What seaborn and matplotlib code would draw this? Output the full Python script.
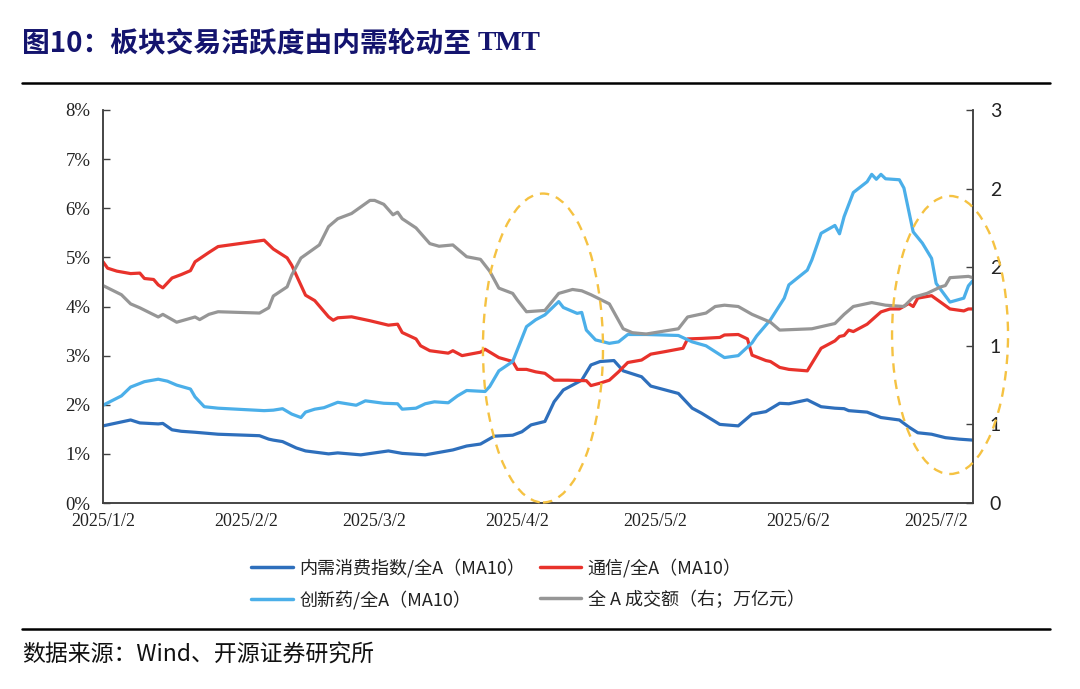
import matplotlib
matplotlib.use("Agg")
import matplotlib.pyplot as plt
from matplotlib.patches import Ellipse
from matplotlib.lines import Line2D
import seaborn as sns
import pandas as pd

sns.set_theme(style="white")
plt.rcParams['font.family'] = ['Noto Sans CJK SC', 'DejaVu Sans']
plt.rcParams['axes.unicode_minus'] = False

# ---------------- data ----------------
neixu_dates = ["2025-01-02", "2025-01-05", "2025-01-08", "2025-01-10", "2025-01-14", "2025-01-15",
               "2025-01-17", "2025-01-19", "2025-01-22", "2025-01-27", "2025-02-05", "2025-02-07",
               "2025-02-08", "2025-02-10", "2025-02-13", "2025-02-15", "2025-02-20", "2025-02-22",
               "2025-02-27", "2025-03-02", "2025-03-05", "2025-03-08", "2025-03-13", "2025-03-19",
               "2025-03-22", "2025-03-25", "2025-03-28", "2025-04-01", "2025-04-03", "2025-04-05",
               "2025-04-08", "2025-04-10", "2025-04-12", "2025-04-14", "2025-04-16", "2025-04-18",
               "2025-04-20", "2025-04-23", "2025-04-25", "2025-04-29", "2025-05-01", "2025-05-07",
               "2025-05-10", "2025-05-12", "2025-05-16", "2025-05-20", "2025-05-23", "2025-05-26",
               "2025-05-29", "2025-05-31", "2025-06-04", "2025-06-07", "2025-06-10", "2025-06-12",
               "2025-06-13", "2025-06-17", "2025-06-20", "2025-06-24", "2025-06-26", "2025-06-28",
               "2025-07-01", "2025-07-04", "2025-07-07", "2025-07-10"]
neixu_vals = [1.57, 1.63, 1.69, 1.63, 1.61, 1.62,
              1.49, 1.46, 1.44, 1.40, 1.37, 1.30,
              1.28, 1.25, 1.12, 1.06, 1.00, 1.02,
              0.98, 1.02, 1.06, 1.01, 0.98, 1.08,
              1.16, 1.20, 1.36, 1.38, 1.45, 1.59,
              1.66, 2.06, 2.30, 2.40, 2.50, 2.81,
              2.88, 2.90, 2.69, 2.57, 2.38, 2.23,
              1.93, 1.83, 1.60, 1.57, 1.81, 1.86,
              2.03, 2.02, 2.10, 1.96, 1.93, 1.92,
              1.88, 1.85, 1.74, 1.69, 1.55, 1.43,
              1.40, 1.33, 1.30, 1.28]

tongxin_dates = ["2025-01-02", "2025-01-03", "2025-01-05", "2025-01-08", "2025-01-10", "2025-01-11",
                 "2025-01-13", "2025-01-14", "2025-01-15", "2025-01-17", "2025-01-19", "2025-01-21",
                 "2025-01-22", "2025-01-25", "2025-01-27", "2025-02-06", "2025-02-08", "2025-02-11",
                 "2025-02-12", "2025-02-15", "2025-02-17", "2025-02-20", "2025-02-21", "2025-02-22",
                 "2025-02-25", "2025-03-01", "2025-03-05", "2025-03-07", "2025-03-08", "2025-03-11",
                 "2025-03-12", "2025-03-14", "2025-03-18", "2025-03-19", "2025-03-21", "2025-03-25",
                 "2025-03-26", "2025-03-29", "2025-04-01", "2025-04-02", "2025-04-04", "2025-04-06",
                 "2025-04-08", "2025-04-10", "2025-04-13", "2025-04-17", "2025-04-18", "2025-04-20",
                 "2025-04-22", "2025-04-24", "2025-04-26", "2025-04-29", "2025-05-01", "2025-05-04",
                 "2025-05-08", "2025-05-09", "2025-05-12", "2025-05-16", "2025-05-17", "2025-05-20",
                 "2025-05-22", "2025-05-23", "2025-05-26", "2025-05-27", "2025-05-29", "2025-05-31",
                 "2025-06-04", "2025-06-07", "2025-06-10", "2025-06-11", "2025-06-12", "2025-06-13",
                 "2025-06-14", "2025-06-17", "2025-06-20", "2025-06-22", "2025-06-24", "2025-06-26",
                 "2025-06-27", "2025-06-28", "2025-07-01", "2025-07-05", "2025-07-08", "2025-07-09",
                 "2025-07-10"]
tongxin_vals = [4.91, 4.78, 4.72, 4.67, 4.68, 4.57,
                4.55, 4.44, 4.38, 4.58, 4.65, 4.73,
                4.91, 5.10, 5.22, 5.35, 5.17, 4.99,
                4.84, 4.23, 4.12, 3.79, 3.72, 3.77,
                3.79, 3.71, 3.62, 3.64, 3.47, 3.34,
                3.20, 3.10, 3.05, 3.10, 3.00, 3.07,
                3.13, 2.96, 2.88, 2.72, 2.72, 2.67,
                2.64, 2.50, 2.50, 2.49, 2.39, 2.44,
                2.50, 2.67, 2.86, 2.91, 3.03, 3.08,
                3.15, 3.34, 3.35, 3.37, 3.42, 3.43,
                3.34, 3.01, 2.90, 2.88, 2.76, 2.72,
                2.69, 3.15, 3.30, 3.39, 3.41, 3.52,
                3.49, 3.64, 3.89, 3.95, 3.95, 4.06,
                4.00, 4.17, 4.22, 3.95, 3.91, 3.95,
                3.95]

yiyao_dates = ["2025-01-02", "2025-01-06", "2025-01-08", "2025-01-11", "2025-01-14", "2025-01-16",
               "2025-01-18", "2025-01-21", "2025-01-22", "2025-01-24", "2025-01-27", "2025-02-06",
               "2025-02-08", "2025-02-10", "2025-02-12", "2025-02-14", "2025-02-15", "2025-02-17",
               "2025-02-19", "2025-02-22", "2025-02-26", "2025-02-28", "2025-03-04", "2025-03-07",
               "2025-03-08", "2025-03-11", "2025-03-13", "2025-03-15", "2025-03-18", "2025-03-20",
               "2025-03-22", "2025-03-26", "2025-03-27", "2025-03-29", "2025-04-01", "2025-04-04",
               "2025-04-06", "2025-04-08", "2025-04-11", "2025-04-12", "2025-04-15", "2025-04-16",
               "2025-04-17", "2025-04-19", "2025-04-22", "2025-04-24", "2025-04-26", "2025-04-30",
               "2025-05-07", "2025-05-10", "2025-05-13", "2025-05-17", "2025-05-20", "2025-05-23",
               "2025-05-24", "2025-05-27", "2025-05-30", "2025-05-31", "2025-06-04", "2025-06-05",
               "2025-06-07", "2025-06-10", "2025-06-11", "2025-06-12", "2025-06-14", "2025-06-17",
               "2025-06-18", "2025-06-19", "2025-06-20", "2025-06-21", "2025-06-24", "2025-06-25",
               "2025-06-27", "2025-06-29", "2025-07-01", "2025-07-02", "2025-07-05", "2025-07-08",
               "2025-07-09", "2025-07-10"]
yiyao_vals = [1.99, 2.18, 2.36, 2.47, 2.52, 2.48,
              2.40, 2.32, 2.16, 1.96, 1.93, 1.88,
              1.89, 1.92, 1.81, 1.74, 1.85, 1.91,
              1.94, 2.05, 1.99, 2.08, 2.03, 2.02,
              1.91, 1.93, 2.02, 2.06, 2.04, 2.18,
              2.29, 2.27, 2.37, 2.69, 2.88, 3.59,
              3.73, 3.83, 4.10, 3.98, 3.86, 3.88,
              3.52, 3.32, 3.25, 3.28, 3.43, 3.43,
              3.41, 3.28, 3.20, 2.96, 3.00, 3.26,
              3.40, 3.73, 4.17, 4.44, 4.74, 4.95,
              5.49, 5.65, 5.48, 5.83, 6.32, 6.54,
              6.69, 6.59, 6.69, 6.60, 6.58, 6.41,
              5.52, 5.29, 4.98, 4.47, 4.09, 4.17,
              4.42, 4.53]

turnover_dates = ["2025-01-02", "2025-01-06", "2025-01-08", "2025-01-10", "2025-01-14", "2025-01-15",
                  "2025-01-18", "2025-01-20", "2025-01-22", "2025-01-23", "2025-01-25", "2025-01-27",
                  "2025-02-05", "2025-02-07", "2025-02-08", "2025-02-11", "2025-02-12", "2025-02-14",
                  "2025-02-18", "2025-02-20", "2025-02-22", "2025-02-25", "2025-03-01", "2025-03-02",
                  "2025-03-04", "2025-03-06", "2025-03-07", "2025-03-08", "2025-03-11", "2025-03-14",
                  "2025-03-16", "2025-03-19", "2025-03-22", "2025-03-25", "2025-03-27", "2025-03-29",
                  "2025-04-01", "2025-04-02", "2025-04-04", "2025-04-08", "2025-04-11", "2025-04-14",
                  "2025-04-16", "2025-04-18", "2025-04-22", "2025-04-25", "2025-04-27", "2025-04-30",
                  "2025-05-07", "2025-05-09", "2025-05-13", "2025-05-15", "2025-05-17", "2025-05-20",
                  "2025-05-23", "2025-05-25", "2025-05-27", "2025-05-29", "2025-06-05", "2025-06-10",
                  "2025-06-12", "2025-06-14", "2025-06-18", "2025-06-21", "2025-06-25", "2025-06-27",
                  "2025-06-30", "2025-07-03", "2025-07-04", "2025-07-05", "2025-07-09", "2025-07-10"]
turnover_vals = [1.66, 1.59, 1.52, 1.49, 1.42, 1.44,
                 1.38, 1.40, 1.42, 1.40, 1.44, 1.46,
                 1.45, 1.49, 1.58, 1.65, 1.74, 1.87,
                 1.97, 2.11, 2.17, 2.21, 2.31, 2.31,
                 2.28, 2.20, 2.22, 2.17, 2.10, 1.98,
                 1.96, 1.97, 1.88, 1.86, 1.77, 1.64,
                 1.60, 1.55, 1.46, 1.47, 1.60, 1.63,
                 1.62, 1.59, 1.52, 1.33, 1.30, 1.29,
                 1.33, 1.42, 1.45, 1.50, 1.51, 1.50,
                 1.44, 1.41, 1.38, 1.32, 1.33, 1.37,
                 1.44, 1.50, 1.53, 1.51, 1.50, 1.57,
                 1.60, 1.65, 1.66, 1.72, 1.73, 1.72]

series_labels = ["内需消费指数/全A（MA10）", "通信/全A（MA10）",
                 "创新药/全A（MA10）", "全 A 成交额（右；万亿元）"]
series_colors = ["#2E6FBC", "#E8322B", "#4BAFE9", "#969696"]

xtick_dates = ["2025-01-02", "2025-02-02", "2025-03-02", "2025-04-02",
               "2025-05-02", "2025-06-02", "2025-07-02"]
xtick_labels = ["2025/1/2", "2025/2/2", "2025/3/2", "2025/4/2",
                "2025/5/2", "2025/6/2", "2025/7/2"]
left_ticks = [0, 1, 2, 3, 4, 5, 6, 7, 8]
left_tick_labels = ["0%", "1%", "2%", "3%", "4%", "5%", "6%", "7%", "8%"]
right_ticks = [0, 0.6, 1.2, 1.8, 2.4, 3.0]
right_tick_labels = ["0", "1", "1", "2", "2", "3"]

title_main = "图10：板块交易活跃度由内需轮动至"
title_tail = "TMT"
source_text = "数据来源：Wind、开源证券研究所"

# ---------------- figure ----------------
fig = plt.figure(figsize=(10.8, 6.89), dpi=100)
fig.patch.set_facecolor("white")
ax = fig.add_axes([103 / 1080, 1 - 503 / 689, 870 / 1080, 393 / 689])
ax2 = ax.twinx()

lw = 2.3
sns.lineplot(x=pd.to_datetime(neixu_dates), y=neixu_vals, ax=ax, color=series_colors[0], lw=lw, legend=False)
sns.lineplot(x=pd.to_datetime(tongxin_dates), y=tongxin_vals, ax=ax, color=series_colors[1], lw=lw, legend=False)
sns.lineplot(x=pd.to_datetime(yiyao_dates), y=yiyao_vals, ax=ax, color=series_colors[2], lw=lw, legend=False)
sns.lineplot(x=pd.to_datetime(turnover_dates), y=turnover_vals, ax=ax2, color=series_colors[3], lw=lw, legend=False)

ax.set_xlim(pd.Timestamp("2025-01-02"), pd.Timestamp("2025-07-10"))
ax.set_ylim(0, 8)
ax2.set_ylim(0, 3)
ax.set_xlabel("")
ax.set_ylabel("")
ax2.set_ylabel("")

ax.set_xticks(pd.to_datetime(xtick_dates))
ax.set_xticklabels(xtick_labels)
ax.set_yticks(left_ticks)
ax.set_yticklabels(left_tick_labels)
ax2.set_yticks(right_ticks)
ax2.set_yticklabels(right_tick_labels)

spine_color = "#404040"
for a in (ax, ax2):
    a.grid(False)
    a.set_facecolor("none")
    a.spines["top"].set_visible(False)
    for s in ("left", "right", "bottom"):
        a.spines[s].set_color(spine_color)
        a.spines[s].set_linewidth(1.1)
ax.patch.set_facecolor("white")

ax.tick_params(axis="x", direction="in", length=5, width=1, color=spine_color, pad=7,
               labelsize=13, labelcolor="#222222", labelfontfamily="Liberation Serif")
ax.tick_params(axis="y", direction="in", length=5, width=1, color=spine_color, pad=9,
               labelsize=13.5, labelcolor="#222222", labelfontfamily="Liberation Serif", left=True)
ax2.tick_params(axis="y", direction="in", length=5, width=1, color=spine_color, pad=12,
                labelsize=14, labelcolor="#222222", labelfontfamily="Lato", right=True)

# dashed highlight ellipses
ell_kw = dict(fill=False, edgecolor="#F5C242", lw=1.7, ls=(0, (4, 3)), clip_on=False, zorder=10)
ax2.add_patch(Ellipse((0.5057, 0.3944), 0.138, 0.786, transform=ax.transAxes, **ell_kw))
ax2.add_patch(Ellipse((0.9736, 0.4275), 0.1333, 0.7074, transform=ax.transAxes, **ell_kw))

# legend
handles = [Line2D([0], [0], color=c, lw=2.5) for c in series_colors]
order = [0, 2, 1, 3]
fig.legend([handles[i] for i in order], [series_labels[i] for i in order],
           loc="center", bbox_to_anchor=(528 / 1080, 1 - 584 / 689), ncol=2, frameon=False,
           fontsize=13, handlelength=2.3, handletextpad=0.35, columnspacing=0.8,
           labelspacing=0.7, labelcolor="#222222")

# title
title_color = "#14146E"
t1 = fig.text(22 / 1080, 1 - 43 / 689, title_main, fontsize=20, fontweight="bold",
              color=title_color, va="center", ha="left")
fig.canvas.draw()
bb = t1.get_window_extent(renderer=fig.canvas.get_renderer())
fig.text((bb.x1 + 7) / (fig.dpi * fig.get_figwidth()), 1 - 43 / 689, title_tail,
         fontsize=20, fontweight="bold", color=title_color, va="center", ha="left",
         family="Liberation Serif")

fig.add_artist(Line2D([22 / 1080, 1050 / 1080], [1 - 83 / 689] * 2, transform=fig.transFigure,
                      color="black", lw=1.8))
fig.add_artist(Line2D([22 / 1080, 1050 / 1080], [1 - 629 / 689] * 2, transform=fig.transFigure,
                      color="black", lw=1.8))

fig.text(22 / 1080, 1 - 655 / 689, source_text, fontsize=16.5, color="#111111",
         va="center", ha="left")

fig.savefig("out.png", dpi=100, facecolor="white")
